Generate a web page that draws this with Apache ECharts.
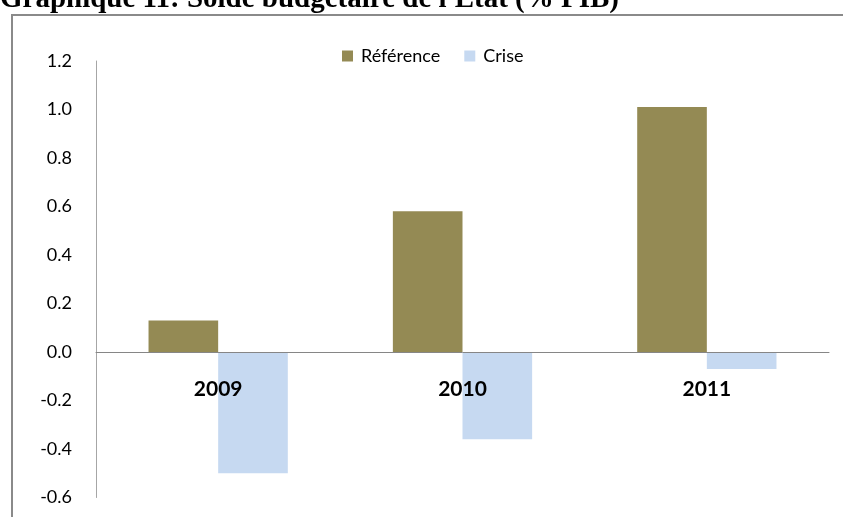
<!DOCTYPE html>
<html>
<head>
<meta charset="utf-8">
<script src="https://cdn.jsdelivr.net/npm/echarts@6/dist/echarts.min.js"></script>
<style>
html,body{margin:0;padding:0;background:#fff;}
#chart{width:843px;height:517px;}
</style>
</head>
<body>
<div id="chart"></div>
<script>
var titleText = "Graphique 11: Solde budgétaire de l'Etat (% PIB)";
var categories = ["2009", "2010", "2011"];
var seriesNames = ["Référence", "Crise"];
var reference = [0.13, 0.58, 1.01];
var crise = [-0.50, -0.36, -0.07];
var yTicks = { min: -0.6, max: 1.2, interval: 0.2 };

var chart = echarts.init(document.getElementById('chart'), null, { renderer: 'canvas' });
chart.setOption({
  animation: false,
  backgroundColor: '#ffffff',
  graphic: [
    {
      type: 'rect', left: 11, top: 14, z: -1,
      shape: { x: 0, y: 0, width: 850, height: 520 },
      style: { fill: '#ffffff', stroke: '#8a8a8a', lineWidth: 2 }
    },
    {
      type: 'text', x: 0, y: 14,
      style: {
        text: titleText, fill: '#000', font: 'bold 29px "Liberation Serif", serif',
        verticalAlign: 'bottom', align: 'left'
      }
    }
  ],
  legend: {
    data: seriesNames,
    left: 337, top: 42,
    itemWidth: 11, itemHeight: 11, itemGap: 24,
    icon: 'rect',
    textStyle: { fontFamily: 'Lato', fontSize: 18, color: '#000', padding: [0, 0, 0, 3] }
  },
  grid: { left: 96, right: 14, top: 61, bottom: 19.5, containLabel: false, outerBoundsMode: 'none' },
  xAxis: {
    type: 'category',
    data: categories,
    position: 'bottom',
    offset: -145.5,
    z: 10,
    axisLine: { onZero: false, lineStyle: { color: '#868686', width: 1 } },
    axisTick: { show: false },
    axisLabel: { fontFamily: 'Lato', fontWeight: 'bold', fontSize: 21, color: '#000', margin: 27 },
    splitLine: { show: false }
  },
  yAxis: {
    type: 'value',
    min: yTicks.min, max: yTicks.max, interval: yTicks.interval,
    axisLine: { show: true, lineStyle: { color: '#a6a6a6', width: 1 } },
    axisTick: { show: false },
    splitLine: { show: false },
    axisLabel: {
      fontFamily: 'Lato', fontSize: 18, color: '#000', margin: 24,
      formatter: function (v) { return v.toFixed(1); }
    }
  },
  series: [
    {
      name: seriesNames[0], type: 'bar', data: reference,
      itemStyle: { color: '#948A54' },
      barGap: '0%', barCategoryGap: '43%'
    },
    {
      name: seriesNames[1], type: 'bar', data: crise,
      itemStyle: { color: '#C6D9F1' },
      barGap: '0%', barCategoryGap: '43%'
    }
  ]
});
</script>
</body>
</html>
